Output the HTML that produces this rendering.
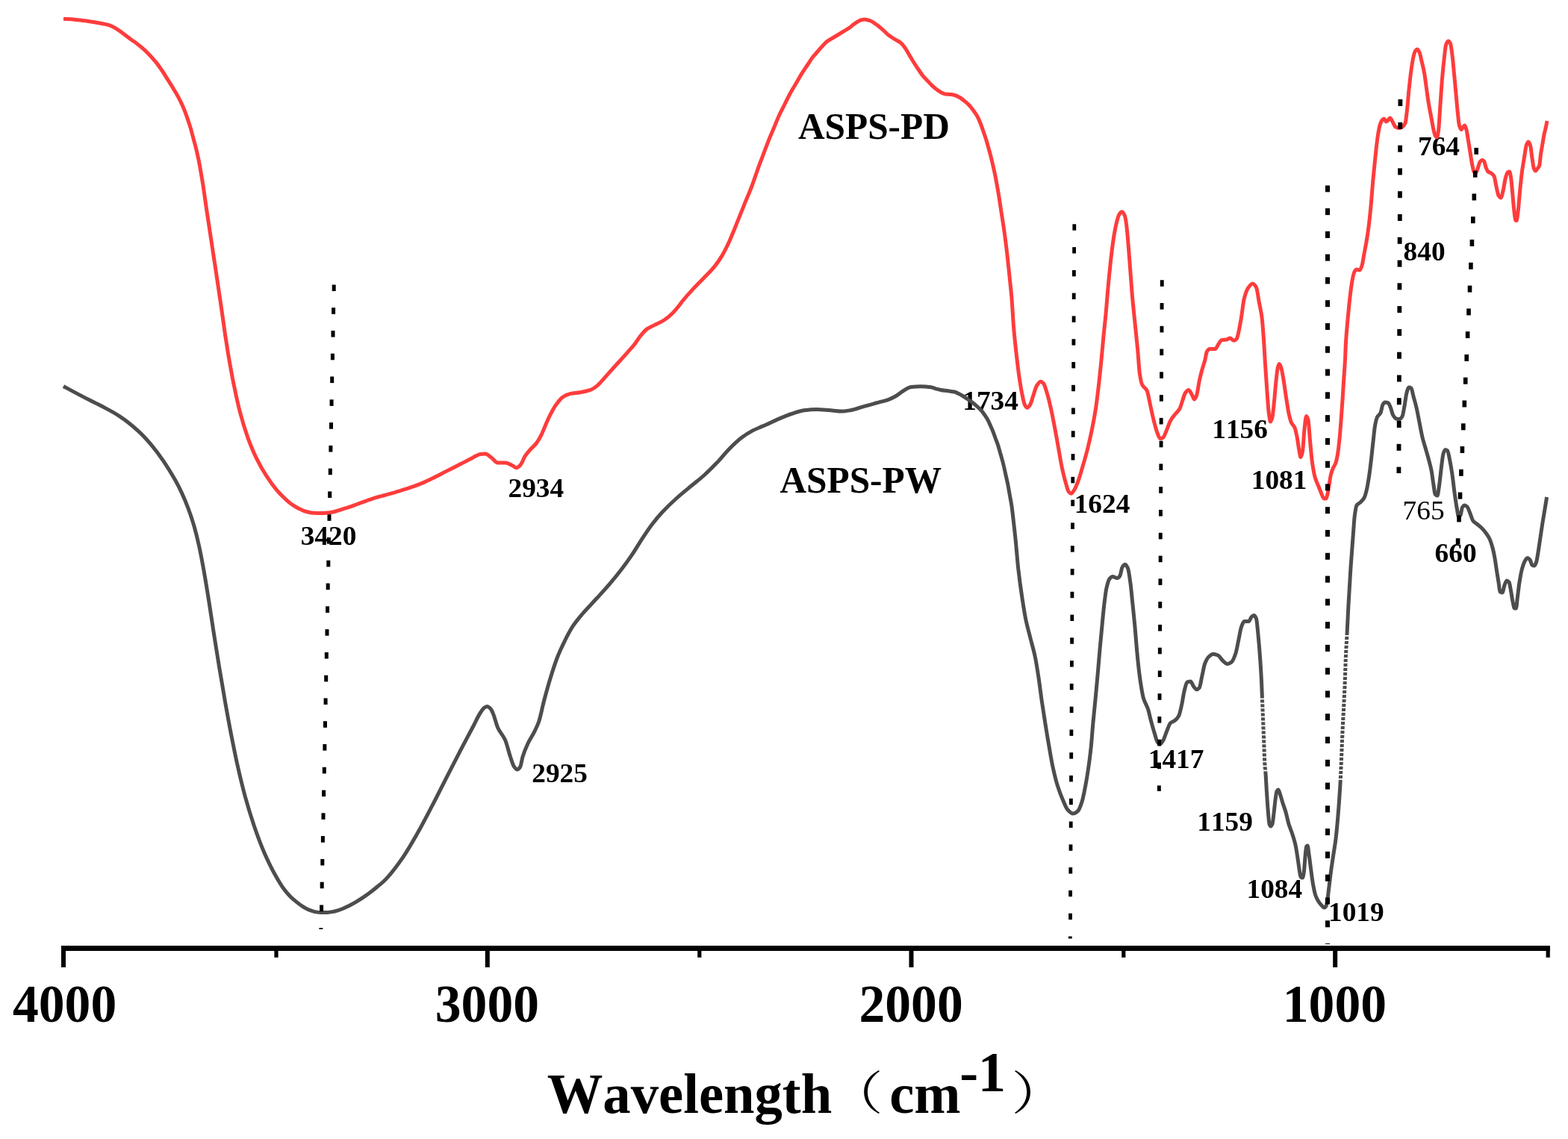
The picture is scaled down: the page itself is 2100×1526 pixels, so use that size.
<!DOCTYPE html>
<html lang="en"><head><meta charset="utf-8"><title>FTIR spectra</title>
<style>html,body{margin:0;padding:0;background:#fff;}body{width:2100px;height:1526px;overflow:hidden;}svg{display:block;}text{font-family:"Liberation Serif","Noto Serif CJK SC",serif;fill:#000;font-kerning:none;}.b{font-weight:bold;}.cjk{font-family:"Noto Serif CJK SC","Liberation Serif",serif;font-weight:normal;}</style>
</head><body>
<svg width="2100" height="1526" viewBox="0 0 2100 1526" role="img" aria-label="FTIR spectra of ASPS-PD and ASPS-PW">
<rect x="0" y="0" width="2100" height="1526" fill="#ffffff"/>
<text class="b" transform="translate(402.7,730.0) scale(1.0,0.975)" font-size="37.33">3420</text>
<text class="b" transform="translate(680.5,665.8) scale(1.0,0.975)" font-size="37.33">2934</text>
<text class="b" transform="translate(712.3,1048.3) scale(1.0,0.975)" font-size="37.33">2925</text>
<text class="b" transform="translate(1289.3,548.9) scale(1.0,0.975)" font-size="37.33">1734</text>
<text class="b" transform="translate(1438.7,687.0) scale(1.0,0.975)" font-size="37.33">1624</text>
<text class="b" transform="translate(1537.8,1028.8) scale(1.0,0.975)" font-size="37.33">1417</text>
<text class="b" transform="translate(1623.3,587.0) scale(1.0,0.975)" font-size="37.33">1156</text>
<text class="b" transform="translate(1675.8,655.3) scale(1.0,0.975)" font-size="37.33">1081</text>
<text class="b" transform="translate(1603.3,1113.0) scale(1.0,0.975)" font-size="37.33">1159</text>
<text class="b" transform="translate(1669.5,1202.5) scale(1.0,0.975)" font-size="37.33">1084</text>
<text class="b" transform="translate(1779.0,1233.6) scale(1.0,0.975)" font-size="37.33">1019</text>
<text class="b" transform="translate(1899.0,208.0) scale(1.0,0.975)" font-size="37.33">764</text>
<text class="b" transform="translate(1879.6,349.0) scale(1.0,0.975)" font-size="37.33">840</text>
<text class="r" transform="translate(1878.6,696.4) scale(1.0,0.975)" font-size="37.33">765</text>
<text class="b" transform="translate(1921.6,753.0) scale(1.0,0.975)" font-size="37.33">660</text>
<text class="b" transform="translate(1069.0,185.8) scale(1.0,1.035)" font-size="49.33">ASPS-PD</text>
<text class="b" transform="translate(1044.5,660.0) scale(1.0,1.035)" font-size="49.33">ASPS-PW</text>
<text class="b" transform="translate(17.0,1369.0) scale(1.0,1.03)" font-size="69.6">4000</text>
<text class="b" transform="translate(582.8,1369.0) scale(1.0,1.03)" font-size="69.6">3000</text>
<text class="b" transform="translate(1150.5,1369.0) scale(1.0,1.03)" font-size="69.6">2000</text>
<text class="b" transform="translate(1717.8,1369.0) scale(1.0,1.03)" font-size="69.6">1000</text>
<text class="b" transform="translate(732.7,1490.5) scale(1.0,1.03)" font-size="74.67">Wavelength</text>
<text class="cjk" transform="translate(1109.5,1486.7) scale(1.18,1.0)" font-size="62">（</text>
<text class="b" transform="translate(1191.2,1490.5) scale(1.0,1.03)" font-size="74.67">cm</text>
<text class="b" transform="translate(1285.3,1462.0) scale(1.0,1.03)" font-size="74.67">-</text>
<text class="b" transform="translate(1309.8,1462.0) scale(1.0,1.03)" font-size="74.67">1</text>
<text class="cjk" transform="translate(1354.5,1486.7) scale(1.18,1.0)" font-size="62">）</text>
<path d="M85.0,517.5C93.3,522.0 101.7,526.6 110.0,530.9C118.3,535.3 126.7,539.1 135.0,543.5C143.3,548.0 151.7,552.1 160.0,557.6C168.3,563.0 176.7,569.7 185.0,577.3C190.6,582.3 196.1,588.3 201.7,594.8C207.2,601.3 212.8,608.7 218.3,616.8C223.9,624.9 229.4,633.9 235.0,643.8C237.8,648.8 240.5,654.1 243.3,660.1C246.1,666.1 248.9,672.6 251.7,680.1C254.5,687.4 257.2,695.4 260.0,705.0C262.2,712.7 264.5,721.9 266.7,732.0C268.9,742.0 271.1,753.9 273.3,766.2C275.5,778.7 277.8,792.8 280.0,806.9C282.2,820.9 284.5,836.3 286.7,850.6C288.9,864.6 291.1,878.5 293.3,891.9C296.1,908.9 298.9,925.6 301.7,941.3C304.5,956.9 307.2,972.0 310.0,986.1C312.8,1000.2 315.5,1014.0 318.3,1026.3C321.6,1041.1 325.0,1055.0 328.3,1067.2C332.2,1081.4 336.1,1094.0 340.0,1105.5C344.4,1118.5 348.9,1130.6 353.3,1140.9C358.9,1153.8 364.4,1164.9 370.0,1174.8C373.3,1180.7 376.7,1186.3 380.0,1190.8C382.8,1194.6 385.6,1197.9 388.4,1200.7C391.2,1203.6 394.0,1205.9 396.8,1208.1C399.6,1210.4 402.4,1212.5 405.2,1214.3C408.0,1216.1 410.7,1217.8 413.5,1218.9C416.3,1220.0 419.1,1221.1 421.9,1221.6C424.7,1222.1 427.5,1222.6 430.3,1222.6C433.1,1222.6 435.9,1222.6 438.7,1222.5C441.8,1222.4 445.0,1221.6 448.1,1221.0C451.3,1220.3 454.4,1219.2 457.6,1218.0C460.7,1216.8 463.9,1215.2 467.0,1213.7C470.1,1212.1 473.3,1210.4 476.4,1208.6C479.6,1206.7 482.7,1204.7 485.9,1202.6C489.0,1200.5 492.2,1198.3 495.3,1196.0C498.4,1193.7 501.6,1191.1 504.7,1188.5C507.5,1186.2 510.3,1184.1 513.1,1181.5C515.4,1179.4 517.7,1177.0 520.0,1174.4C526.7,1166.8 533.3,1157.9 540.0,1148.1C546.7,1138.3 553.3,1126.5 560.0,1114.8C566.7,1103.0 573.3,1090.0 580.0,1077.2C586.7,1064.4 593.3,1050.8 600.0,1037.8C605.6,1026.9 611.1,1016.1 616.7,1005.4C622.2,994.8 627.8,984.5 633.3,974.0C636.6,967.7 640.0,960.0 643.3,955.0C645.0,952.4 646.8,949.4 648.5,948.3C649.8,947.5 651.2,946.6 652.5,946.6C653.8,946.6 655.2,947.7 656.5,948.8C657.7,949.8 658.8,952.5 660.0,955.0C662.2,959.8 664.5,970.1 666.7,975.0C670.0,982.3 673.4,984.2 676.7,991.7C678.9,996.7 681.1,1006.8 683.3,1013.3C685.0,1018.2 686.6,1024.3 688.3,1026.7C689.7,1028.7 691.1,1031.0 692.5,1031.0C693.9,1031.0 695.3,1029.5 696.7,1027.5C697.8,1025.9 698.9,1017.6 700.0,1014.0C702.2,1006.7 704.5,1001.5 706.7,996.7C709.5,990.8 712.2,987.3 715.0,981.7C717.2,977.2 719.5,973.1 721.7,966.7C723.9,960.4 726.1,948.4 728.3,940.0C731.1,929.4 733.9,919.2 736.7,910.0C740.0,899.1 743.4,888.5 746.7,880.0C750.0,871.5 753.4,864.7 756.7,858.0C760.0,851.3 763.4,844.8 766.7,839.7C771.1,832.9 775.6,827.8 780.0,822.5C786.7,814.6 793.3,808.2 800.0,800.8C805.6,794.7 811.1,788.8 816.7,782.2C822.2,775.7 827.8,768.8 833.3,761.5C837.8,755.6 842.2,749.4 846.7,742.8C851.1,736.3 855.6,728.5 860.0,721.8C864.4,715.1 868.9,708.2 873.3,702.4C877.8,696.6 882.2,691.3 886.7,686.5C893.4,679.3 900.0,673.0 906.7,667.0C913.4,661.0 920.0,655.8 926.7,650.3C932.2,645.7 937.8,641.5 943.3,636.5C948.9,631.5 954.4,625.9 960.0,620.1C965.6,614.3 971.1,607.1 976.7,601.5C982.2,595.9 987.8,590.5 993.3,586.3C997.8,582.9 1002.2,580.0 1006.7,577.6C1013.4,574.0 1020.0,571.7 1026.7,568.7C1032.2,566.2 1037.8,563.4 1043.3,561.1C1048.9,558.7 1054.4,556.3 1060.0,554.5C1065.6,552.7 1071.1,550.6 1076.7,549.8C1082.2,549.1 1087.8,548.4 1093.3,548.4C1098.9,548.4 1104.4,549.1 1110.0,549.6C1115.6,550.0 1121.1,551.1 1126.7,551.1C1131.1,551.1 1135.6,550.2 1140.0,549.5C1145.6,548.6 1151.1,546.2 1156.7,544.6C1162.2,543.0 1167.8,541.5 1173.3,540.0C1178.9,538.4 1184.4,537.3 1190.0,535.3C1193.3,534.1 1196.7,532.4 1200.0,530.5C1203.3,528.6 1206.7,525.4 1210.0,523.5C1213.3,521.6 1216.7,519.0 1220.0,518.6C1224.4,518.1 1228.9,517.8 1233.3,517.8C1237.8,517.8 1242.2,518.2 1246.7,518.8C1248.9,519.1 1251.1,520.2 1253.3,520.8C1255.5,521.4 1257.8,522.1 1260.0,522.5C1263.3,523.1 1266.7,523.3 1270.0,523.8C1272.8,524.2 1275.5,524.4 1278.3,525.0C1280.5,525.5 1282.8,526.9 1285.0,528.0C1286.7,528.8 1288.3,529.8 1290.0,530.8C1292.2,532.2 1294.5,533.8 1296.7,535.3C1298.9,536.8 1301.1,538.3 1303.3,540.0C1305.3,541.5 1307.2,543.2 1309.2,545.0C1311.1,546.8 1313.1,548.5 1315.0,550.8C1316.4,552.5 1317.8,554.6 1319.2,556.7C1320.6,558.8 1321.9,560.7 1323.3,563.3C1324.4,565.4 1325.6,568.3 1326.7,570.8C1327.8,573.3 1328.9,575.5 1330.0,578.3C1331.1,581.1 1332.2,584.5 1333.3,587.5C1334.4,590.6 1335.6,593.2 1336.7,596.7C1337.8,600.1 1338.9,604.4 1340.0,608.3C1341.1,612.2 1342.2,615.7 1343.3,620.0C1344.4,624.5 1345.6,629.9 1346.7,635.0C1347.8,639.9 1348.9,644.4 1350.0,650.0C1350.8,654.2 1351.7,659.5 1352.5,664.2C1353.3,668.9 1354.2,672.7 1355.0,678.3C1355.8,683.9 1356.7,691.9 1357.5,699.2C1358.3,706.5 1359.2,713.9 1360.0,722.0C1361.3,734.4 1362.5,751.3 1363.8,762.5C1365.5,777.3 1367.1,788.9 1368.8,800.0C1370.5,811.1 1372.1,821.9 1373.8,830.0C1375.9,840.0 1377.9,846.7 1380.0,855.0C1382.1,863.4 1384.2,869.9 1386.3,880.0C1388.0,888.0 1389.6,898.9 1391.3,910.0C1392.5,918.2 1393.8,928.9 1395.0,937.5C1396.7,949.1 1398.3,959.6 1400.0,970.0C1401.7,980.4 1403.3,990.4 1405.0,1000.0C1406.7,1009.6 1408.3,1019.8 1410.0,1027.5C1412.1,1037.2 1414.2,1045.8 1416.3,1052.5C1418.8,1060.5 1421.3,1066.8 1423.8,1072.5C1425.9,1077.2 1427.9,1082.8 1430.0,1085.0C1432.3,1087.5 1434.7,1090.0 1437.0,1090.0C1439.3,1090.0 1441.5,1088.4 1443.8,1086.3C1445.5,1084.8 1447.1,1080.0 1448.8,1075.0C1450.5,1070.0 1452.1,1061.2 1453.8,1052.5C1455.0,1046.1 1456.3,1038.5 1457.5,1030.0C1458.8,1021.3 1460.0,1012.2 1461.3,1000.0C1462.1,991.9 1463.0,979.2 1463.8,970.0C1464.9,958.2 1465.9,948.7 1467.0,937.5C1468.0,927.0 1469.0,916.2 1470.0,905.0C1471.0,893.8 1472.0,881.1 1473.0,870.0C1474.1,857.8 1475.2,846.3 1476.3,835.0C1477.1,826.4 1478.0,816.9 1478.8,810.0C1479.9,801.1 1480.9,792.0 1482.0,787.5C1483.4,781.5 1484.9,776.5 1486.3,775.0C1487.5,773.7 1488.8,772.5 1490.0,772.5C1492.1,772.5 1494.2,774.5 1496.3,774.5C1497.5,774.5 1498.8,773.1 1500.0,771.3C1501.0,769.9 1502.0,761.6 1503.0,760.0C1504.3,758.0 1505.5,756.3 1506.8,756.3C1508.0,756.3 1509.3,758.6 1510.5,761.3C1511.6,763.7 1512.7,772.2 1513.8,780.0C1514.9,787.5 1515.9,799.7 1517.0,810.0C1518.0,819.7 1519.0,829.1 1520.0,840.0C1520.8,849.1 1521.7,860.9 1522.5,870.0C1523.3,879.1 1524.2,887.8 1525.0,895.0C1526.0,903.6 1527.0,911.3 1528.0,917.5C1529.1,924.4 1530.2,931.2 1531.3,935.0C1533.4,942.1 1535.4,943.7 1537.5,950.0C1538.8,953.9 1540.0,960.3 1541.3,965.0C1543.0,971.2 1544.6,977.1 1546.3,982.5C1547.5,986.5 1548.8,992.0 1550.0,993.8C1551.1,995.4 1552.2,997.0 1553.3,997.0C1554.7,997.0 1556.1,994.6 1557.5,992.5C1559.2,990.0 1560.8,983.9 1562.5,980.0C1564.2,976.1 1565.8,970.4 1567.5,968.8C1569.6,966.8 1571.7,966.7 1573.8,965.0C1575.5,963.6 1577.1,962.0 1578.8,958.8C1580.0,956.4 1581.3,950.4 1582.5,945.0C1583.8,939.5 1585.0,929.9 1586.3,925.0C1587.5,920.3 1588.8,914.2 1590.0,913.8C1591.5,913.3 1593.0,913.0 1594.5,913.0C1595.9,913.0 1597.4,918.2 1598.8,920.0C1600.0,921.5 1601.3,923.8 1602.5,923.8C1603.8,923.8 1605.0,922.8 1606.3,921.3C1607.5,919.9 1608.8,910.3 1610.0,905.0C1611.3,899.5 1612.5,892.0 1613.8,888.8C1615.5,884.6 1617.1,881.5 1618.8,880.0C1620.9,878.1 1622.9,876.3 1625.0,876.3C1627.1,876.3 1629.2,877.1 1631.3,878.0C1633.4,878.9 1635.4,883.2 1637.5,885.0C1639.6,886.8 1641.7,889.5 1643.8,889.5C1645.9,889.5 1647.9,888.1 1650.0,886.3C1651.7,884.9 1653.3,880.1 1655.0,875.0C1656.3,871.1 1657.5,863.4 1658.8,857.5C1660.0,851.7 1661.3,843.4 1662.5,840.0C1663.8,836.5 1665.0,832.5 1666.3,832.5C1668.4,832.5 1670.4,832.5 1672.5,832.5C1673.8,832.5 1675.0,827.3 1676.3,826.3C1677.4,825.4 1678.4,824.5 1679.5,824.5C1680.5,824.5 1681.5,826.3 1682.5,828.8C1683.3,830.9 1684.2,841.7 1685.0,850.0C1685.8,858.3 1686.7,868.4 1687.5,880.0C1688.2,889.3 1688.8,899.2 1689.5,912.5C1690.0,922.4 1690.5,937.5 1691.0,950.0C1691.5,962.5 1692.0,975.0 1692.5,987.5C1693.0,1000.0 1693.5,1017.6 1694.0,1025.0C1694.3,1030.0 1694.7,1031.6 1695.0,1036.0C1695.5,1042.2 1695.9,1052.8 1696.4,1060.0C1697.1,1070.3 1697.7,1080.3 1698.4,1088.0C1698.9,1094.2 1699.5,1102.6 1700.0,1104.0C1700.7,1105.8 1701.3,1107.0 1702.0,1107.0C1702.7,1107.0 1703.3,1105.6 1704.0,1104.0C1704.7,1102.4 1705.3,1095.2 1706.0,1090.0C1706.7,1084.8 1707.3,1076.8 1708.0,1072.0C1708.7,1067.2 1709.3,1061.1 1710.0,1060.0C1710.7,1058.9 1711.3,1058.0 1712.0,1058.0C1712.8,1058.0 1713.6,1061.7 1714.4,1064.0C1715.6,1067.4 1716.8,1072.2 1718.0,1076.0C1719.3,1080.2 1720.7,1083.4 1722.0,1088.0C1723.3,1092.6 1724.7,1099.6 1726.0,1104.0C1727.7,1109.5 1729.3,1112.8 1731.0,1118.0C1732.3,1122.2 1733.7,1126.0 1735.0,1132.0C1736.0,1136.5 1737.0,1143.5 1738.0,1150.0C1738.7,1154.3 1739.3,1159.9 1740.0,1164.0C1740.7,1168.1 1741.3,1174.5 1742.0,1175.0C1742.8,1175.6 1743.6,1176.0 1744.4,1176.0C1745.1,1176.0 1745.7,1172.1 1746.4,1168.0C1746.9,1164.7 1747.5,1153.5 1748.0,1148.0C1748.5,1142.5 1749.1,1134.6 1749.6,1134.0C1750.1,1133.4 1750.7,1133.0 1751.2,1133.0C1751.8,1133.0 1752.4,1139.9 1753.0,1144.0C1753.9,1149.9 1754.7,1157.6 1755.6,1164.0C1756.5,1170.9 1757.5,1178.8 1758.4,1184.0C1759.6,1190.6 1760.8,1196.7 1762.0,1200.0C1763.3,1203.7 1764.7,1205.9 1766.0,1208.0C1767.3,1210.1 1768.7,1211.7 1770.0,1213.0C1771.2,1214.2 1772.4,1216.0 1773.6,1216.0C1774.4,1216.0 1775.2,1215.2 1776.0,1214.0C1776.7,1213.0 1777.3,1208.1 1778.0,1204.0C1778.7,1199.9 1779.3,1193.3 1780.0,1188.0C1781.0,1180.0 1782.0,1171.3 1783.0,1164.0C1784.0,1156.7 1785.0,1150.7 1786.0,1144.0C1787.0,1137.3 1788.0,1132.1 1789.0,1124.0C1789.7,1118.6 1790.3,1111.3 1791.0,1104.0C1791.7,1096.7 1792.3,1088.9 1793.0,1080.0C1793.7,1071.1 1794.3,1061.9 1795.0,1050.0C1795.5,1041.7 1795.9,1030.8 1796.4,1020.0C1796.9,1007.7 1797.5,991.8 1798.0,980.0C1798.3,972.7 1798.7,966.7 1799.0,960.0C1799.7,946.7 1800.3,935.9 1801.0,920.0C1801.5,908.9 1801.9,890.6 1802.4,880.0C1802.9,867.9 1803.5,860.3 1804.0,850.0C1804.7,837.1 1805.3,822.2 1806.0,810.0C1807.0,791.7 1808.0,774.8 1809.0,760.0C1810.0,745.2 1811.0,732.9 1812.0,720.0C1812.8,709.7 1813.6,695.7 1814.4,690.0C1815.3,683.8 1816.1,678.3 1817.0,677.0C1818.7,674.5 1820.3,674.6 1822.0,673.0C1823.7,671.4 1825.3,670.0 1827.0,667.0C1828.1,665.0 1829.3,660.7 1830.4,656.0C1831.5,651.6 1832.5,645.0 1833.6,638.0C1834.5,631.9 1835.5,623.9 1836.4,616.0C1837.3,608.6 1838.1,599.7 1839.0,592.0C1839.9,584.3 1840.7,574.7 1841.6,570.0C1842.5,565.0 1843.5,560.9 1844.4,559.0C1845.9,555.9 1847.5,556.1 1849.0,553.0C1850.0,551.0 1851.0,543.6 1852.0,542.0C1853.0,540.4 1854.0,539.0 1855.0,539.0C1856.3,539.0 1857.7,539.2 1859.0,539.6C1860.1,539.9 1861.3,543.3 1862.4,546.0C1863.5,548.5 1864.5,554.2 1865.6,556.0C1867.1,558.5 1868.5,560.6 1870.0,561.0C1871.5,561.4 1872.9,561.6 1874.4,561.6C1875.6,561.6 1876.8,560.0 1878.0,558.0C1879.0,556.3 1880.0,549.2 1881.0,544.0C1882.0,538.8 1883.0,529.4 1884.0,526.0C1885.0,522.6 1886.0,519.0 1887.0,519.0C1888.0,519.0 1889.0,519.4 1890.0,520.0C1891.0,520.6 1892.0,527.3 1893.0,531.0C1894.3,535.9 1895.7,540.3 1897.0,546.0C1898.3,551.7 1899.7,559.3 1901.0,566.0C1902.3,572.7 1903.7,580.5 1905.0,586.0C1906.3,591.5 1907.7,595.3 1909.0,600.0C1910.3,604.7 1911.7,609.0 1913.0,614.0C1914.3,619.0 1915.7,623.3 1917.0,630.0C1918.0,635.1 1919.0,643.7 1920.0,650.0C1920.7,654.2 1921.3,661.2 1922.0,662.0C1923.0,663.3 1924.0,664.0 1925.0,664.0C1925.9,664.0 1926.7,655.7 1927.6,650.0C1928.5,643.8 1929.5,633.1 1930.4,626.0C1931.3,619.4 1932.1,610.8 1933.0,608.0C1933.9,605.2 1934.7,602.4 1935.6,602.4C1936.5,602.4 1937.5,602.9 1938.4,603.6C1939.5,604.4 1940.5,611.0 1941.6,616.0C1942.7,621.3 1943.9,628.3 1945.0,636.0C1946.0,642.8 1947.0,652.7 1948.0,660.0C1949.0,667.3 1950.0,674.6 1951.0,680.0C1951.9,684.7 1952.7,692.0 1953.6,692.0C1954.4,692.0 1955.2,691.1 1956.0,690.0C1956.8,688.9 1957.6,681.3 1958.4,680.0C1959.5,678.3 1960.5,677.0 1961.6,677.0C1962.7,677.0 1963.9,678.0 1965.0,679.0C1966.3,680.2 1967.7,684.8 1969.0,688.0C1970.3,691.2 1971.7,696.4 1973.0,698.0C1974.7,700.1 1976.3,700.6 1978.0,702.0C1980.0,703.6 1982.0,705.1 1984.0,707.0C1986.0,708.9 1988.0,711.3 1990.0,714.0C1991.7,716.3 1993.3,718.5 1995.0,722.0C1996.3,724.8 1997.7,729.1 1999.0,734.0C2000.0,737.7 2001.0,742.5 2002.0,748.0C2002.8,752.4 2003.6,758.9 2004.4,764.0C2005.3,769.5 2006.1,774.5 2007.0,780.0C2007.7,784.2 2008.3,792.6 2009.0,793.0C2010.0,793.7 2011.0,794.0 2012.0,794.0C2013.0,794.0 2014.0,786.5 2015.0,784.0C2016.0,781.5 2017.0,778.0 2018.0,778.0C2019.0,778.0 2020.0,778.8 2021.0,780.0C2021.9,781.0 2022.7,787.5 2023.6,792.0C2024.4,796.1 2025.2,802.3 2026.0,806.0C2026.8,809.7 2027.6,815.0 2028.4,815.0C2029.1,815.0 2029.7,815.0 2030.4,815.0C2031.1,815.0 2031.7,805.1 2032.4,800.0C2033.3,793.4 2034.1,785.5 2035.0,780.0C2036.0,773.7 2037.0,767.9 2038.0,764.0C2039.2,759.3 2040.4,755.3 2041.6,753.0C2042.9,750.5 2044.3,747.6 2045.6,747.6C2046.7,747.6 2047.9,748.8 2049.0,750.0C2050.0,751.1 2051.0,756.4 2052.0,757.0C2053.0,757.6 2054.0,758.0 2055.0,758.0C2055.9,758.0 2056.7,755.5 2057.6,753.0C2058.4,750.7 2059.2,744.8 2060.0,740.0C2061.0,734.0 2062.0,726.7 2063.0,720.0C2064.0,713.3 2065.0,706.3 2066.0,700.0C2067.0,693.7 2068.0,688.1 2069.0,682.0C2069.9,676.7 2070.7,671.3 2071.6,666.0" fill="none" stroke="#4d4d4d" stroke-width="5.0" stroke-linejoin="round" stroke-linecap="butt"/>
<path d="M85.0,25.3C90.0,25.6 95.0,25.8 100.0,26.2C104.4,26.5 108.9,27.2 113.3,27.8C117.8,28.4 122.2,29.1 126.7,29.8C130.2,30.4 133.8,31.0 137.3,31.7C140.4,32.4 143.6,32.9 146.7,33.8C149.8,34.8 152.9,36.8 156.0,38.6C159.6,40.7 163.1,43.6 166.7,46.2C169.8,48.4 172.9,51.0 176.0,53.2C178.7,55.2 181.3,56.9 184.0,58.9C187.1,61.3 190.2,63.8 193.3,66.6C196.0,69.1 198.6,71.9 201.3,74.7C204.0,77.6 206.6,80.6 209.3,83.9C212.0,87.3 214.6,91.1 217.3,95.0C220.0,99.0 222.6,103.4 225.3,107.7C227.5,111.2 229.8,114.7 232.0,118.4C234.2,122.1 236.5,125.7 238.7,129.9C240.9,134.0 243.1,138.5 245.3,143.6C247.1,147.8 248.9,152.6 250.7,157.7C252.2,162.1 253.8,166.8 255.3,171.9C256.6,176.4 258.0,181.7 259.3,186.6C260.4,190.8 261.6,194.7 262.7,199.4C264.0,204.9 265.4,210.9 266.7,217.7C268.4,226.2 270.0,236.2 271.7,246.6C273.4,257.1 275.0,269.8 276.7,281.0C278.9,295.9 281.1,310.0 283.3,324.6C285.5,339.3 287.8,353.9 290.0,368.9C292.0,382.2 294.0,395.6 296.0,409.3C297.9,422.4 299.8,436.7 301.7,449.3C303.4,460.3 305.0,470.9 306.7,480.6C308.9,493.4 311.1,505.4 313.3,516.1C316.1,529.8 318.9,542.7 321.7,553.2C325.0,565.8 328.4,576.5 331.7,585.8C335.6,596.5 339.4,605.7 343.3,613.6C347.8,622.8 352.2,630.5 356.7,637.4C361.1,644.3 365.6,650.5 370.0,655.8C373.3,659.8 376.7,663.3 380.0,666.6C382.2,668.8 384.5,670.9 386.7,672.6C388.9,674.4 391.1,676.0 393.3,677.4C395.5,678.8 397.8,680.1 400.0,681.3C402.2,682.4 404.5,683.5 406.7,684.3C408.9,685.1 411.1,685.8 413.3,686.2C415.5,686.7 417.8,687.1 420.0,687.2C423.3,687.4 426.7,687.6 430.0,687.6C433.3,687.6 436.7,687.2 440.0,686.9C442.2,686.6 444.5,686.2 446.7,685.7C448.9,685.3 451.1,684.6 453.3,683.9C456.6,682.9 460.0,681.8 463.3,680.7C466.6,679.6 470.0,678.5 473.3,677.3C476.6,676.1 480.0,674.9 483.3,673.7C486.6,672.5 490.0,671.2 493.3,670.0C496.6,668.9 500.0,667.7 503.3,666.7C506.6,665.7 510.0,664.9 513.3,664.0C515.5,663.4 517.8,662.8 520.0,662.2C523.3,661.3 526.7,660.3 530.0,659.3C535.6,657.6 541.1,656.0 546.7,654.2C552.2,652.3 557.8,650.3 563.3,648.1C568.9,645.8 574.4,643.1 580.0,640.5C585.6,637.8 591.1,634.8 596.7,631.9C602.2,629.1 607.8,626.2 613.3,623.4C618.9,620.6 624.4,617.9 630.0,614.9C632.7,613.5 635.3,611.7 638.0,610.5C639.8,609.7 641.5,608.7 643.3,608.5C645.5,608.2 647.8,608.0 650.0,608.0C652.8,608.0 655.5,611.3 658.3,613.3C661.1,615.3 663.9,620.0 666.7,620.0C670.0,620.0 673.4,620.0 676.7,620.0C680.0,620.0 683.4,622.4 686.7,624.0C688.4,624.8 690.0,626.7 691.7,626.7C693.4,626.7 695.0,624.9 696.7,623.3C698.9,621.2 701.1,614.3 703.3,610.9C705.5,607.6 707.8,605.0 710.0,602.5C712.8,599.3 715.5,597.5 718.3,593.9C720.5,591.0 722.8,587.1 725.0,582.7C726.7,579.4 728.3,574.7 730.0,570.9C732.2,565.8 734.5,560.5 736.7,556.2C739.5,550.8 742.2,545.6 745.0,541.8C747.8,538.0 750.5,534.1 753.3,532.3C756.6,530.0 760.0,528.3 763.3,527.6C767.8,526.6 772.2,526.5 776.7,525.7C781.1,525.0 785.6,524.2 790.0,522.7C793.3,521.6 796.7,519.2 800.0,516.6C803.3,514.0 806.7,509.5 810.0,505.8C814.4,500.9 818.9,495.9 823.3,491.0C828.9,484.8 834.4,478.9 840.0,472.6C843.3,468.8 846.7,465.2 850.0,460.9C852.8,457.4 855.5,452.5 858.3,449.3C861.1,445.9 863.9,442.5 866.7,440.6C870.0,438.3 873.4,437.2 876.7,435.4C881.1,433.1 885.6,431.4 890.0,428.5C893.3,426.4 896.7,423.5 900.0,420.3C903.3,417.1 906.7,412.9 910.0,408.7C911.1,407.3 912.2,405.7 913.3,404.3C917.8,398.6 922.2,393.7 926.7,388.9C932.2,382.8 937.8,377.5 943.3,371.7C947.8,367.0 952.2,362.8 956.7,357.3C960.0,353.2 963.4,348.6 966.7,343.1C970.0,337.6 973.4,330.7 976.7,323.5C980.0,316.2 983.4,307.6 986.7,299.4C990.0,291.2 993.4,282.6 996.7,274.4C1000.0,266.2 1003.4,258.8 1006.7,250.0C1008.4,245.6 1010.0,240.5 1011.7,235.8C1013.4,231.1 1015.0,226.3 1016.7,221.7C1018.9,215.7 1021.1,210.0 1023.3,204.2C1025.5,198.3 1027.8,192.3 1030.0,186.7C1032.2,181.1 1034.5,176.1 1036.7,170.8C1038.9,165.6 1041.1,159.8 1043.3,155.0C1045.8,149.5 1048.3,145.0 1050.8,140.0C1053.3,135.0 1055.8,129.6 1058.3,125.0C1061.1,119.9 1063.9,115.5 1066.7,110.8C1069.5,106.1 1072.2,101.1 1075.0,96.7C1077.2,93.2 1079.5,90.1 1081.7,86.7C1083.9,83.4 1086.1,79.5 1088.3,76.7C1090.3,74.2 1092.2,72.3 1094.2,70.0C1096.1,67.8 1098.1,65.4 1100.0,63.3C1102.8,60.3 1105.5,57.1 1108.3,55.0C1111.1,52.9 1113.9,51.7 1116.7,50.0C1119.5,48.3 1122.2,46.7 1125.0,45.0C1127.2,43.6 1129.5,42.2 1131.7,40.8C1133.9,39.4 1136.1,38.3 1138.3,36.7C1140.0,35.5 1141.6,33.7 1143.3,32.5C1145.0,31.3 1146.6,30.1 1148.3,29.2C1150.0,28.3 1151.6,27.1 1153.3,26.7C1154.9,26.3 1156.4,25.9 1158.0,25.9C1160.7,25.9 1163.3,27.0 1166.0,28.0C1168.7,29.0 1171.3,31.1 1174.0,33.0C1176.7,34.9 1179.3,37.3 1182.0,39.6C1184.7,41.9 1187.3,44.9 1190.0,47.0C1192.7,49.1 1195.3,50.7 1198.0,52.4C1200.7,54.1 1203.3,54.9 1206.0,57.0C1208.0,58.6 1210.0,61.3 1212.0,64.0C1214.0,66.7 1216.0,70.7 1218.0,74.0C1220.0,77.3 1222.0,80.8 1224.0,84.0C1226.0,87.2 1228.0,90.1 1230.0,93.0C1232.0,95.9 1234.0,99.2 1236.0,101.6C1238.0,104.0 1240.0,105.9 1242.0,108.0C1244.0,110.1 1246.0,112.5 1248.0,114.4C1250.0,116.3 1252.0,118.1 1254.0,119.6C1256.0,121.1 1258.0,122.6 1260.0,123.6C1262.0,124.6 1264.0,125.7 1266.0,126.0C1268.7,126.3 1271.3,126.3 1274.0,126.6C1276.0,126.8 1278.0,127.4 1280.0,128.0C1282.0,128.6 1284.0,129.8 1286.0,131.0C1288.0,132.2 1290.0,133.9 1292.0,135.6C1294.0,137.3 1296.0,138.9 1298.0,141.0C1300.0,143.1 1302.0,145.7 1304.0,148.4C1305.7,150.7 1307.3,153.0 1309.0,156.0C1310.3,158.4 1311.7,161.7 1313.0,165.0C1314.3,168.3 1315.7,172.2 1317.0,176.0C1318.3,179.8 1319.7,183.7 1321.0,188.0C1322.1,191.7 1323.3,195.9 1324.4,200.0C1325.5,203.9 1326.5,207.7 1327.6,212.0C1328.5,215.7 1329.5,219.8 1330.4,224.0C1331.3,227.9 1332.1,231.7 1333.0,236.0C1333.9,240.3 1334.7,245.1 1335.6,250.0C1336.4,254.5 1337.2,259.0 1338.0,264.0C1338.8,269.0 1339.6,274.7 1340.4,280.0C1341.9,290.1 1343.5,299.0 1345.0,310.0C1346.3,319.1 1347.5,329.1 1348.8,340.0C1350.0,350.6 1351.3,363.0 1352.5,375.0C1353.3,383.1 1354.2,390.0 1355.0,400.0C1355.8,410.0 1356.7,427.4 1357.5,437.5C1358.8,452.8 1360.0,463.7 1361.3,475.0C1362.5,486.0 1363.8,496.6 1365.0,505.0C1366.3,513.7 1367.5,521.4 1368.8,527.5C1370.0,533.4 1371.3,540.3 1372.5,542.5C1373.6,544.5 1374.7,546.3 1375.8,546.3C1377.0,546.3 1378.3,544.3 1379.5,542.5C1380.9,540.4 1382.4,534.0 1383.8,530.0C1385.5,525.3 1387.1,518.7 1388.8,516.3C1390.5,513.9 1392.1,511.3 1393.8,511.3C1395.0,511.3 1396.3,512.5 1397.5,513.8C1399.2,515.6 1400.8,522.1 1402.5,527.5C1404.2,532.9 1405.8,540.1 1407.5,547.5C1409.2,554.9 1410.8,563.8 1412.5,572.5C1414.2,581.2 1415.8,590.8 1417.5,600.0C1419.2,609.2 1420.8,619.8 1422.5,627.5C1424.2,635.2 1425.8,641.9 1427.5,647.5C1428.8,651.8 1430.0,657.3 1431.3,658.8C1432.4,660.1 1433.4,661.3 1434.5,661.3C1435.9,661.3 1437.4,658.5 1438.8,656.3C1440.5,653.8 1442.1,649.4 1443.8,645.0C1445.9,639.5 1447.9,632.0 1450.0,625.0C1452.1,617.9 1454.2,610.8 1456.3,602.5C1458.4,594.3 1460.4,585.2 1462.5,575.0C1464.2,566.8 1465.8,558.4 1467.5,547.5C1468.8,539.2 1470.0,528.4 1471.3,517.5C1472.5,506.9 1473.8,495.0 1475.0,482.5C1476.0,472.4 1477.0,460.3 1478.0,450.0C1479.1,438.6 1480.2,429.5 1481.3,417.5C1482.1,408.4 1483.0,396.7 1483.8,387.5C1485.0,373.9 1486.3,361.0 1487.5,350.0C1488.8,338.8 1490.0,328.1 1491.3,320.0C1492.5,312.1 1493.8,305.0 1495.0,300.0C1496.3,294.8 1497.5,289.4 1498.8,287.5C1500.0,285.6 1501.3,283.8 1502.5,283.8C1503.8,283.8 1505.0,286.0 1506.3,288.8C1507.1,290.6 1508.0,296.4 1508.8,302.5C1509.6,308.6 1510.5,320.1 1511.3,330.0C1512.1,339.9 1513.0,351.7 1513.8,362.5C1514.6,373.3 1515.5,385.4 1516.3,395.0C1517.5,409.2 1518.8,420.2 1520.0,432.5C1521.3,445.2 1522.5,456.2 1523.8,470.0C1524.6,479.1 1525.5,494.3 1526.3,500.0C1527.4,507.3 1528.4,512.7 1529.5,515.0C1531.8,519.9 1534.0,519.0 1536.3,523.8C1537.5,526.4 1538.8,534.5 1540.0,540.0C1541.7,547.4 1543.3,555.9 1545.0,562.5C1546.7,569.1 1548.3,575.8 1550.0,580.0C1551.3,583.2 1552.5,587.5 1553.8,587.5C1555.0,587.5 1556.3,587.0 1557.5,586.3C1559.2,585.4 1560.8,580.0 1562.5,576.3C1564.2,572.6 1565.8,566.8 1567.5,563.8C1569.6,560.0 1571.7,557.7 1573.8,555.0C1575.9,552.3 1577.9,551.2 1580.0,547.5C1581.3,545.3 1582.5,539.9 1583.8,536.3C1585.0,532.8 1586.3,528.0 1587.5,526.3C1588.9,524.4 1590.4,522.5 1591.8,522.5C1593.3,522.5 1594.8,526.3 1596.3,528.8C1597.4,530.5 1598.4,535.0 1599.5,535.0C1600.5,535.0 1601.5,532.5 1602.5,530.0C1603.8,526.9 1605.0,515.8 1606.3,510.0C1607.5,504.4 1608.8,499.5 1610.0,495.0C1611.3,490.4 1612.5,487.4 1613.8,482.5C1614.6,479.3 1615.5,472.8 1616.3,471.3C1617.5,469.2 1618.8,467.5 1620.0,467.5C1622.5,467.5 1625.0,467.5 1627.5,467.5C1629.2,467.5 1630.8,462.2 1632.5,460.0C1633.8,458.3 1635.0,455.7 1636.3,455.5C1638.4,455.2 1640.4,455.3 1642.5,455.0C1644.2,454.8 1645.8,453.0 1647.5,453.0C1649.2,453.0 1650.8,456.3 1652.5,456.3C1653.8,456.3 1655.0,455.3 1656.3,453.8C1657.1,452.8 1658.0,448.5 1658.8,445.0C1660.0,439.8 1661.3,432.3 1662.5,425.0C1663.8,417.5 1665.0,405.0 1666.3,400.0C1668.0,393.4 1669.6,388.8 1671.3,386.3C1673.4,383.2 1675.4,380.0 1677.5,380.0C1679.2,380.0 1680.8,382.1 1682.5,385.0C1683.8,387.2 1685.0,398.2 1686.3,405.0C1687.5,411.6 1688.8,415.6 1690.0,425.0C1690.8,431.4 1691.7,443.4 1692.5,455.0C1693.2,464.3 1693.8,477.1 1694.5,487.5C1695.3,500.5 1696.2,513.9 1697.0,525.0C1697.8,536.1 1698.7,549.2 1699.5,555.0C1700.2,559.6 1700.8,565.0 1701.5,565.0C1702.3,565.0 1703.0,562.6 1703.8,560.0C1704.6,557.2 1705.5,547.7 1706.3,540.0C1707.1,532.3 1708.0,520.2 1708.8,512.5C1709.6,504.8 1710.5,495.6 1711.3,492.5C1712.0,490.0 1712.6,487.5 1713.3,487.5C1714.1,487.5 1715.0,490.1 1715.8,492.5C1716.8,495.3 1717.8,501.8 1718.8,507.5C1720.0,514.6 1721.3,524.7 1722.5,532.5C1723.8,540.5 1725.0,549.4 1726.3,555.0C1727.4,559.7 1728.4,564.1 1729.5,566.3C1730.9,569.3 1732.4,569.4 1733.8,572.5C1734.9,574.8 1735.9,579.9 1737.0,585.0C1738.0,589.8 1739.0,598.7 1740.0,603.8C1740.7,607.2 1741.3,612.5 1742.0,612.5C1742.8,612.5 1743.7,609.0 1744.5,605.0C1745.3,601.0 1746.2,582.4 1747.0,575.0C1747.8,567.6 1748.7,557.5 1749.5,557.5C1750.3,557.5 1751.2,559.7 1752.0,562.5C1752.8,565.3 1753.7,581.3 1754.5,590.0C1755.5,600.5 1756.5,613.0 1757.5,620.0C1758.8,628.8 1760.0,635.6 1761.3,640.0C1763.0,645.7 1764.6,648.3 1766.3,652.5C1767.5,655.6 1768.8,659.2 1770.0,662.0C1771.0,664.2 1772.0,668.0 1773.0,668.0C1773.9,668.0 1774.7,668.0 1775.6,668.0C1776.4,668.0 1777.2,664.9 1778.0,662.0C1778.7,659.6 1779.3,653.9 1780.0,650.0C1780.8,645.3 1781.6,639.2 1782.4,636.0C1783.3,632.5 1784.1,630.1 1785.0,628.0C1786.3,624.7 1787.7,623.8 1789.0,620.0C1789.9,617.5 1790.7,613.2 1791.6,608.0C1792.4,603.2 1793.2,595.9 1794.0,588.0C1794.7,581.4 1795.3,572.6 1796.0,564.0C1796.7,555.4 1797.3,546.1 1798.0,536.0C1798.5,528.0 1799.1,518.3 1799.6,510.0C1800.3,499.6 1800.9,493.0 1801.6,480.0C1801.9,474.8 1802.1,464.7 1802.4,460.0C1803.3,444.8 1804.1,437.6 1805.0,428.0C1806.0,416.9 1807.0,406.5 1808.0,398.0C1809.0,389.5 1810.0,381.2 1811.0,376.0C1812.0,370.8 1813.0,365.6 1814.0,364.0C1815.0,362.4 1816.0,361.0 1817.0,361.0C1818.3,361.0 1819.7,362.0 1821.0,362.0C1822.0,362.0 1823.0,358.9 1824.0,356.0C1825.0,353.1 1826.0,345.3 1827.0,340.0C1828.0,334.7 1829.0,329.9 1830.0,324.0C1831.0,318.1 1832.0,311.8 1833.0,304.0C1834.0,296.2 1835.0,286.5 1836.0,276.0C1837.0,265.5 1838.0,250.9 1839.0,240.0C1840.0,229.1 1841.0,219.3 1842.0,210.0C1843.0,200.7 1844.0,190.6 1845.0,184.0C1846.0,177.4 1847.0,171.2 1848.0,168.0C1849.0,164.8 1850.0,162.1 1851.0,161.0C1851.9,160.0 1852.7,159.0 1853.6,159.0C1854.5,159.0 1855.5,163.0 1856.4,163.0C1857.3,163.0 1858.1,161.8 1859.0,161.0C1859.9,160.2 1860.7,158.0 1861.6,158.0C1862.7,158.0 1863.9,161.2 1865.0,163.0C1866.3,165.1 1867.7,169.3 1869.0,170.0C1870.7,170.9 1872.3,171.6 1874.0,171.6C1875.3,171.6 1876.7,170.8 1878.0,170.0C1879.3,169.2 1880.7,168.0 1882.0,165.0C1882.8,163.2 1883.6,154.8 1884.4,148.0C1885.3,140.6 1886.1,128.3 1887.0,120.0C1888.0,110.4 1889.0,101.1 1890.0,94.0C1891.0,86.9 1892.0,80.0 1893.0,76.0C1893.9,72.5 1894.7,69.1 1895.6,68.0C1896.4,67.0 1897.2,66.0 1898.0,66.0C1899.0,66.0 1900.0,68.0 1901.0,70.0C1902.0,72.0 1903.0,77.8 1904.0,82.0C1905.2,87.0 1906.4,91.4 1907.6,98.0C1908.5,103.2 1909.5,111.5 1910.4,118.0C1911.5,125.5 1912.5,133.6 1913.6,140.0C1914.7,146.8 1915.9,152.0 1917.0,158.0C1918.0,163.3 1919.0,169.9 1920.0,174.0C1920.8,177.3 1921.6,180.8 1922.4,182.0C1923.1,183.0 1923.7,184.0 1924.4,184.0C1925.1,184.0 1925.7,180.0 1926.4,176.0C1927.3,170.7 1928.1,152.0 1929.0,140.0C1929.9,128.0 1930.7,114.0 1931.6,104.0C1932.4,94.7 1933.2,87.0 1934.0,80.0C1934.9,72.5 1935.7,62.4 1936.6,60.0C1937.6,57.2 1938.6,55.0 1939.6,55.0C1940.5,55.0 1941.5,56.3 1942.4,58.0C1943.3,59.6 1944.1,67.4 1945.0,74.0C1945.9,80.6 1946.7,91.0 1947.6,100.0C1948.4,108.3 1949.2,117.3 1950.0,126.0C1950.8,134.7 1951.6,144.7 1952.4,152.0C1953.1,158.1 1953.7,165.7 1954.4,168.0C1955.3,171.0 1956.1,173.6 1957.0,173.6C1957.7,173.6 1958.3,171.8 1959.0,171.0C1959.9,169.9 1960.7,168.0 1961.6,168.0C1962.4,168.0 1963.2,171.2 1964.0,174.0C1964.8,176.8 1965.6,183.2 1966.4,188.0C1967.3,193.2 1968.1,198.7 1969.0,204.0C1969.9,209.3 1970.7,215.7 1971.6,220.0C1972.4,224.0 1973.2,228.9 1974.0,230.0C1974.8,231.1 1975.6,232.0 1976.4,232.0C1977.3,232.0 1978.1,228.3 1979.0,226.0C1980.0,223.4 1981.0,218.3 1982.0,217.0C1983.0,215.7 1984.0,214.4 1985.0,214.4C1985.9,214.4 1986.7,215.1 1987.6,216.0C1988.4,216.8 1989.2,222.0 1990.0,224.0C1991.0,226.5 1992.0,229.2 1993.0,230.0C1994.3,231.1 1995.7,231.1 1997.0,232.0C1998.3,232.9 1999.7,233.7 2001.0,236.0C2002.0,237.7 2003.0,245.7 2004.0,250.0C2005.0,254.3 2006.0,260.4 2007.0,262.0C2008.0,263.6 2009.0,265.0 2010.0,265.0C2011.0,265.0 2012.0,259.8 2013.0,256.0C2014.0,252.2 2015.0,243.8 2016.0,240.0C2017.0,236.2 2018.0,231.7 2019.0,231.0C2019.9,230.4 2020.7,230.0 2021.6,230.0C2022.3,230.0 2022.9,234.2 2023.6,238.0C2024.3,241.8 2024.9,251.0 2025.6,258.0C2026.3,265.0 2026.9,274.1 2027.6,280.0C2028.3,285.9 2028.9,294.5 2029.6,295.0C2030.1,295.4 2030.5,295.6 2031.0,295.6C2031.7,295.6 2032.3,289.0 2033.0,284.0C2033.9,277.5 2034.7,264.7 2035.6,256.0C2036.5,246.7 2037.5,237.0 2038.4,230.0C2039.5,222.0 2040.5,216.4 2041.6,210.0C2042.5,204.4 2043.5,196.2 2044.4,194.0C2045.3,191.9 2046.1,190.0 2047.0,190.0C2047.9,190.0 2048.7,192.4 2049.6,195.0C2050.4,197.4 2051.2,206.9 2052.0,212.0C2052.8,217.1 2053.6,224.1 2054.4,226.0C2055.1,227.6 2055.7,229.0 2056.4,229.0C2057.3,229.0 2058.1,227.1 2059.0,226.0C2059.9,224.9 2060.7,224.3 2061.6,222.0C2062.3,220.2 2062.9,210.5 2063.6,206.0C2064.4,200.6 2065.2,196.7 2066.0,192.0C2066.7,188.1 2067.3,183.2 2068.0,180.0C2068.7,176.8 2069.3,175.0 2070.0,172.0C2070.7,169.0 2071.3,165.3 2072.0,162.0" fill="none" stroke="#fe3c3c" stroke-width="5.0" stroke-linejoin="round" stroke-linecap="butt"/>
<g fill="#fff"><rect x="1685.5" y="935.5" width="10" height="1.8"/><rect x="1685.7" y="941.5" width="10" height="1.8"/><rect x="1685.9" y="947.5" width="10" height="1.8"/><rect x="1686.2" y="953.5" width="10" height="1.8"/><rect x="1686.4" y="959.5" width="10" height="1.8"/><rect x="1686.7" y="965.5" width="10" height="1.8"/><rect x="1686.9" y="971.5" width="10" height="1.8"/><rect x="1687.1" y="977.5" width="10" height="1.8"/><rect x="1687.4" y="983.5" width="10" height="1.8"/><rect x="1687.6" y="989.5" width="10" height="1.8"/><rect x="1687.9" y="995.5" width="10" height="1.8"/><rect x="1688.1" y="1001.5" width="10" height="1.8"/><rect x="1688.3" y="1007.5" width="10" height="1.8"/><rect x="1688.6" y="1013.5" width="10" height="1.8"/><rect x="1688.8" y="1019.5" width="10" height="1.8"/><rect x="1689.1" y="1025.5" width="10" height="1.8"/><rect x="1689.7" y="1031.5" width="10" height="1.8"/><rect x="1798.9" y="851.0" width="10" height="1.8"/><rect x="1798.6" y="857.0" width="10" height="1.8"/><rect x="1798.3" y="863.0" width="10" height="1.8"/><rect x="1797.9" y="869.0" width="10" height="1.8"/><rect x="1797.6" y="875.0" width="10" height="1.8"/><rect x="1797.3" y="881.0" width="10" height="1.8"/><rect x="1797.1" y="887.0" width="10" height="1.8"/><rect x="1796.9" y="893.0" width="10" height="1.8"/><rect x="1796.7" y="899.0" width="10" height="1.8"/><rect x="1796.5" y="905.0" width="10" height="1.8"/><rect x="1796.3" y="911.0" width="10" height="1.8"/><rect x="1796.1" y="917.0" width="10" height="1.8"/><rect x="1795.8" y="923.0" width="10" height="1.8"/><rect x="1795.5" y="929.0" width="10" height="1.8"/><rect x="1795.2" y="935.0" width="10" height="1.8"/><rect x="1794.9" y="941.0" width="10" height="1.8"/><rect x="1794.6" y="947.0" width="10" height="1.8"/><rect x="1794.3" y="953.0" width="10" height="1.8"/><rect x="1794.0" y="959.0" width="10" height="1.8"/><rect x="1793.7" y="965.0" width="10" height="1.8"/><rect x="1793.4" y="971.0" width="10" height="1.8"/><rect x="1793.1" y="977.0" width="10" height="1.8"/><rect x="1792.8" y="983.0" width="10" height="1.8"/><rect x="1792.6" y="989.0" width="10" height="1.8"/><rect x="1792.4" y="995.0" width="10" height="1.8"/><rect x="1792.1" y="1001.0" width="10" height="1.8"/><rect x="1791.9" y="1007.0" width="10" height="1.8"/><rect x="1791.6" y="1013.0" width="10" height="1.8"/><rect x="1791.4" y="1019.0" width="10" height="1.8"/><rect x="1791.1" y="1025.0" width="10" height="1.8"/><rect x="1790.8" y="1031.0" width="10" height="1.8"/><rect x="1790.6" y="1037.0" width="10" height="1.8"/><rect x="1790.3" y="1043.0" width="10" height="1.8"/></g>
<g fill="#000">
<rect x="444.7" y="381.5" width="5.0" height="8.5"/>
<rect x="444.1" y="412.2" width="5.0" height="8.6"/>
<rect x="443.5" y="443.0" width="5.0" height="8.6"/>
<rect x="442.9" y="473.7" width="5.0" height="8.6"/>
<rect x="442.2" y="504.5" width="5.0" height="8.6"/>
<rect x="441.6" y="535.3" width="5.0" height="8.6"/>
<rect x="441.0" y="566.1" width="5.0" height="8.6"/>
<rect x="440.4" y="596.9" width="5.0" height="8.6"/>
<rect x="439.8" y="627.6" width="5.0" height="8.6"/>
<rect x="439.2" y="658.4" width="5.0" height="8.6"/>
<rect x="438.5" y="689.2" width="5.0" height="8.6"/>
<rect x="437.9" y="720.0" width="5.0" height="8.6"/>
<rect x="437.3" y="750.8" width="5.0" height="8.6"/>
<rect x="436.7" y="781.5" width="5.0" height="8.6"/>
<rect x="436.1" y="812.3" width="5.0" height="8.6"/>
<rect x="435.5" y="843.1" width="5.0" height="8.6"/>
<rect x="434.8" y="873.9" width="5.0" height="8.6"/>
<rect x="434.2" y="904.7" width="5.0" height="8.6"/>
<rect x="433.6" y="935.4" width="5.0" height="8.6"/>
<rect x="433.0" y="966.2" width="5.0" height="8.6"/>
<rect x="432.4" y="997.0" width="5.0" height="8.6"/>
<rect x="431.8" y="1027.8" width="5.0" height="8.6"/>
<rect x="431.1" y="1058.6" width="5.0" height="8.6"/>
<rect x="430.5" y="1089.3" width="5.0" height="8.6"/>
<rect x="429.9" y="1120.1" width="5.0" height="8.6"/>
<rect x="429.3" y="1150.9" width="5.0" height="8.6"/>
<rect x="428.7" y="1181.7" width="5.0" height="8.6"/>
<rect x="428.1" y="1212.5" width="5.0" height="8.6"/>
<rect x="427.4" y="1243.2" width="5.0" height="1.8"/>
<rect x="1436.4" y="300.3" width="4.8" height="8.4"/>
<rect x="1436.2" y="331.1" width="4.8" height="8.4"/>
<rect x="1436.0" y="361.9" width="4.8" height="8.4"/>
<rect x="1435.8" y="392.6" width="4.8" height="8.4"/>
<rect x="1435.7" y="423.4" width="4.8" height="8.4"/>
<rect x="1435.5" y="454.2" width="4.8" height="8.4"/>
<rect x="1435.3" y="485.0" width="4.8" height="8.4"/>
<rect x="1435.1" y="515.8" width="4.8" height="8.4"/>
<rect x="1435.0" y="546.5" width="4.8" height="8.4"/>
<rect x="1434.8" y="577.3" width="4.8" height="8.4"/>
<rect x="1434.6" y="608.1" width="4.8" height="8.4"/>
<rect x="1434.4" y="638.9" width="4.8" height="8.4"/>
<rect x="1434.3" y="669.7" width="4.8" height="8.4"/>
<rect x="1434.1" y="700.4" width="4.8" height="8.4"/>
<rect x="1433.9" y="731.2" width="4.8" height="8.4"/>
<rect x="1433.7" y="762.0" width="4.8" height="8.4"/>
<rect x="1433.5" y="792.8" width="4.8" height="8.4"/>
<rect x="1433.4" y="823.6" width="4.8" height="8.4"/>
<rect x="1433.2" y="854.3" width="4.8" height="8.4"/>
<rect x="1433.0" y="885.1" width="4.8" height="8.4"/>
<rect x="1432.8" y="915.9" width="4.8" height="8.4"/>
<rect x="1432.7" y="946.7" width="4.8" height="8.4"/>
<rect x="1432.5" y="977.5" width="4.8" height="8.4"/>
<rect x="1432.3" y="1008.2" width="4.8" height="8.4"/>
<rect x="1432.1" y="1039.0" width="4.8" height="8.4"/>
<rect x="1432.0" y="1069.8" width="4.8" height="8.4"/>
<rect x="1431.8" y="1100.6" width="4.8" height="8.4"/>
<rect x="1431.6" y="1131.4" width="4.8" height="8.4"/>
<rect x="1431.4" y="1162.1" width="4.8" height="8.4"/>
<rect x="1431.2" y="1192.9" width="4.8" height="8.4"/>
<rect x="1431.1" y="1223.7" width="4.8" height="8.4"/>
<rect x="1430.9" y="1254.5" width="4.8" height="3.0"/>
<rect x="1553.8" y="375.2" width="4.9" height="8.6"/>
<rect x="1553.6" y="406.0" width="4.9" height="8.6"/>
<rect x="1553.5" y="436.8" width="4.9" height="8.6"/>
<rect x="1553.3" y="467.5" width="4.9" height="8.6"/>
<rect x="1553.1" y="498.3" width="4.9" height="8.6"/>
<rect x="1552.9" y="529.1" width="4.9" height="8.6"/>
<rect x="1552.7" y="559.9" width="4.9" height="8.6"/>
<rect x="1552.6" y="590.7" width="4.9" height="8.6"/>
<rect x="1552.4" y="621.4" width="4.9" height="8.6"/>
<rect x="1552.2" y="652.2" width="4.9" height="8.6"/>
<rect x="1552.0" y="683.0" width="4.9" height="8.6"/>
<rect x="1551.8" y="713.8" width="4.9" height="8.6"/>
<rect x="1551.7" y="744.6" width="4.9" height="8.6"/>
<rect x="1551.5" y="775.3" width="4.9" height="8.6"/>
<rect x="1551.3" y="806.1" width="4.9" height="8.6"/>
<rect x="1551.1" y="836.9" width="4.9" height="8.6"/>
<rect x="1550.9" y="867.7" width="4.9" height="8.6"/>
<rect x="1550.8" y="898.5" width="4.9" height="8.6"/>
<rect x="1550.6" y="929.2" width="4.9" height="8.6"/>
<rect x="1550.4" y="960.0" width="4.9" height="8.6"/>
<rect x="1550.2" y="990.8" width="4.9" height="8.6"/>
<rect x="1550.0" y="1021.6" width="4.9" height="8.6"/>
<rect x="1549.9" y="1052.4" width="4.9" height="7.6"/>
<rect x="1775.0" y="248.5" width="6.0" height="8.8"/>
<rect x="1775.0" y="279.1" width="6.0" height="9.0"/>
<rect x="1775.0" y="309.9" width="6.0" height="9.0"/>
<rect x="1775.0" y="340.6" width="6.0" height="9.0"/>
<rect x="1775.0" y="371.4" width="6.0" height="9.0"/>
<rect x="1775.0" y="402.2" width="6.0" height="9.0"/>
<rect x="1775.0" y="433.0" width="6.0" height="9.0"/>
<rect x="1775.0" y="463.8" width="6.0" height="9.0"/>
<rect x="1775.0" y="494.5" width="6.0" height="9.0"/>
<rect x="1775.0" y="525.3" width="6.0" height="9.0"/>
<rect x="1775.0" y="556.1" width="6.0" height="9.0"/>
<rect x="1775.0" y="586.9" width="6.0" height="9.0"/>
<rect x="1775.0" y="617.7" width="6.0" height="9.0"/>
<rect x="1775.0" y="648.4" width="6.0" height="9.0"/>
<rect x="1775.0" y="679.2" width="6.0" height="9.0"/>
<rect x="1775.0" y="710.0" width="6.0" height="9.0"/>
<rect x="1775.0" y="740.8" width="6.0" height="9.0"/>
<rect x="1775.0" y="771.6" width="6.0" height="9.0"/>
<rect x="1775.0" y="802.3" width="6.0" height="9.0"/>
<rect x="1775.0" y="833.1" width="6.0" height="9.0"/>
<rect x="1775.0" y="863.9" width="6.0" height="9.0"/>
<rect x="1775.0" y="894.7" width="6.0" height="9.0"/>
<rect x="1775.0" y="925.5" width="6.0" height="9.0"/>
<rect x="1775.0" y="956.2" width="6.0" height="9.0"/>
<rect x="1775.0" y="987.0" width="6.0" height="9.0"/>
<rect x="1775.0" y="1017.8" width="6.0" height="9.0"/>
<rect x="1775.0" y="1048.6" width="6.0" height="9.0"/>
<rect x="1775.0" y="1079.4" width="6.0" height="9.0"/>
<rect x="1775.0" y="1110.1" width="6.0" height="9.0"/>
<rect x="1775.0" y="1140.9" width="6.0" height="9.0"/>
<rect x="1775.0" y="1171.7" width="6.0" height="9.0"/>
<rect x="1775.0" y="1202.5" width="6.0" height="9.0"/>
<rect x="1775.0" y="1233.3" width="6.0" height="9.0"/>
<rect x="1775.0" y="1264.0" width="6.0" height="1.0"/>
<rect x="1872.5" y="133.1" width="5.8" height="9.0"/>
<rect x="1872.4" y="163.9" width="5.8" height="9.0"/>
<rect x="1872.2" y="194.7" width="5.8" height="9.0"/>
<rect x="1872.1" y="225.4" width="5.8" height="9.0"/>
<rect x="1872.0" y="256.2" width="5.8" height="9.0"/>
<rect x="1871.9" y="287.0" width="5.8" height="9.0"/>
<rect x="1871.7" y="317.8" width="5.8" height="9.0"/>
<rect x="1871.6" y="348.6" width="5.8" height="9.0"/>
<rect x="1871.5" y="379.3" width="5.8" height="9.0"/>
<rect x="1871.4" y="410.1" width="5.8" height="9.0"/>
<rect x="1871.3" y="440.9" width="5.8" height="9.0"/>
<rect x="1871.1" y="471.7" width="5.8" height="9.0"/>
<rect x="1871.0" y="502.5" width="5.8" height="9.0"/>
<rect x="1870.9" y="533.2" width="5.8" height="9.0"/>
<rect x="1870.8" y="564.0" width="5.8" height="9.0"/>
<rect x="1870.6" y="594.8" width="5.8" height="9.0"/>
<rect x="1870.5" y="625.6" width="5.8" height="8.4"/>
<rect x="1974.4" y="198.0" width="5.6" height="8.9"/>
<rect x="1972.9" y="228.7" width="5.6" height="9.0"/>
<rect x="1971.5" y="259.5" width="5.6" height="9.0"/>
<rect x="1970.0" y="290.2" width="5.6" height="9.0"/>
<rect x="1968.6" y="321.0" width="5.6" height="9.0"/>
<rect x="1967.1" y="351.8" width="5.6" height="9.0"/>
<rect x="1965.7" y="382.6" width="5.6" height="9.0"/>
<rect x="1964.2" y="413.4" width="5.6" height="9.0"/>
<rect x="1962.8" y="444.1" width="5.6" height="9.0"/>
<rect x="1961.4" y="474.9" width="5.6" height="9.0"/>
<rect x="1959.9" y="505.7" width="5.6" height="9.0"/>
<rect x="1958.5" y="536.5" width="5.6" height="9.0"/>
<rect x="1957.0" y="567.3" width="5.6" height="9.0"/>
<rect x="1955.6" y="598.0" width="5.6" height="9.0"/>
<rect x="1954.1" y="628.8" width="5.6" height="9.0"/>
<rect x="1952.7" y="659.6" width="5.6" height="9.0"/>
<rect x="1951.2" y="690.4" width="5.6" height="9.0"/>
<rect x="1949.8" y="721.2" width="5.6" height="7.8"/>
</g>
<g fill="#000">
<rect x="82" y="1267" width="1994" height="7"/>
<rect x="82.0" y="1270" width="6" height="26"/>
<rect x="649.8" y="1270" width="6" height="26"/>
<rect x="1217.5" y="1270" width="6" height="26"/>
<rect x="1785.2" y="1270" width="6" height="26"/>
<rect x="367.4" y="1270" width="5.2" height="12.8"/>
<rect x="934.2" y="1270" width="5.2" height="12.8"/>
<rect x="1502.2" y="1270" width="5.2" height="12.8"/>
<rect x="2070.6" y="1270" width="5.2" height="12.8"/>
</g>
</svg></body></html>
